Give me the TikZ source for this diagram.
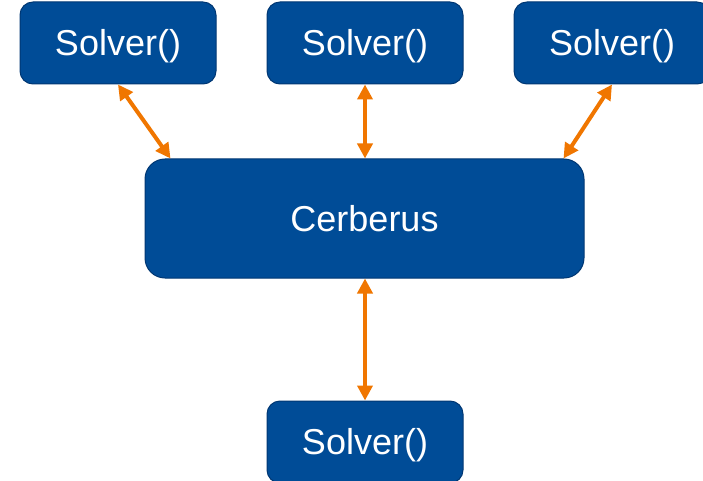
\documentclass[tikz,border=0pt]{standalone}
\usepackage{fontspec}
\setmainfont{Liberation Sans}
\usepackage{tikz}
\usetikzlibrary{calc, positioning, arrows.meta}
\usepackage{xcolor}
\definecolor{boxblue}{RGB}{0,76,151}
\definecolor{boxedge}{RGB}{0,55,115}
\definecolor{linkorange}{RGB}{240,118,0}

\tikzset{
    solverbox/.style={draw=boxedge, line width=1pt, fill=boxblue, text=white, rounded corners=13pt,
        minimum width=196pt, minimum height=82pt, inner sep=0pt, text height=25pt, text depth=0pt,
        font=\fontsize{36}{40}\selectfont},
    mainbox/.style={solverbox, minimum width=439pt, minimum height=119pt, rounded corners=20pt},
    link/.style={linkorange, line width=4pt, {Triangle[length=15pt,width=15pt]}-{Triangle[length=15pt,width=15pt]}}
}

\begin{document}
\begin{tikzpicture}[x=1pt, y=-1pt]
    \useasboundingbox (0,0) rectangle (703,481);
    % Solvers on top
    \node[solverbox] (solverA) at (118,43) {Solver()};
    \node[solverbox] (solverB) at (365,43) {Solver()};
    \node[solverbox] (solverC) at (612,43) {Solver()};
    % Central node
    \node[mainbox] (cerberus) at (364.5,218.5) {Cerberus};
    % Solver below
    \node[solverbox] (solverD) at (365,442) {Solver()};
    % Links
    \draw[link] (solverA.south) -- ([xshift=26pt]cerberus.north west);
    \draw[link] (solverB.south) -- (cerberus.north -| solverB.south);
    \draw[link] (solverC.south) -- ([xshift=-21pt]cerberus.north east);
    \draw[link] (cerberus.south -| solverD.north) -- (solverD.north);
\end{tikzpicture}
\end{document}
